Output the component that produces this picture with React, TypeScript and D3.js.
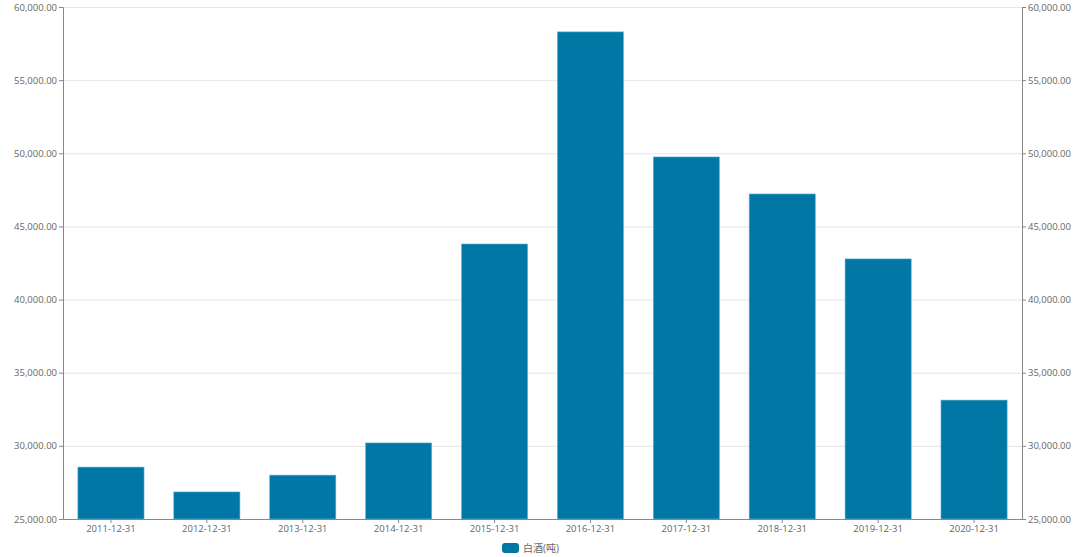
import { useEffect, useRef } from "react";
import * as d3 from "d3";

const categories = [
  "2011-12-31", "2012-12-31", "2013-12-31", "2014-12-31", "2015-12-31",
  "2016-12-31", "2017-12-31", "2018-12-31", "2019-12-31", "2020-12-31",
];
const liquorTons = [28550, 26850, 28000, 30200, 43800, 58300, 49750, 47220, 42780, 33130];
const yTicks = [25000, 30000, 35000, 40000, 45000, 50000, 55000, 60000];
const seriesName = "白酒(吨)";

const BAR = "#0077a5";
const TEXT = "#666";
const FONT = "'Open Sans', 'Noto Sans CJK SC', sans-serif";

export default function App() {
  const ref = useRef<SVGSVGElement>(null);
  const width = 1080;
  const height = 557;
  const margin = { top: 7, right: 58, bottom: 38, left: 63 };

  useEffect(() => {
    const svg = d3.select(ref.current);
    svg.selectAll("*").remove();

    const x = d3.scaleBand()
      .domain(categories)
      .range([margin.left, width - margin.right])
      .paddingInner(0.31)
      .paddingOuter(0.155);
    const y = d3.scaleLinear()
      .domain([25000, 60000])
      .range([height - margin.bottom, margin.top]);
    const fmt = d3.format(",.2f");

    // grid
    svg.append("g")
      .selectAll("line")
      .data(yTicks)
      .join("line")
      .attr("x1", margin.left)
      .attr("x2", width - margin.right)
      .attr("y1", (d) => y(d) + 0.5)
      .attr("y2", (d) => y(d) + 0.5)
      .attr("stroke", "#e6e6e6");

    // bars
    svg.append("g")
      .selectAll("rect")
      .data(liquorTons)
      .join("rect")
      .attr("x", (_, i) => x(categories[i])!)
      .attr("width", x.bandwidth())
      .attr("y", (d) => y(d))
      .attr("height", (d) => y(25000) - y(d))
      .attr("fill", BAR)
      .attr("stroke", "#6fb6d2")
      .attr("stroke-width", 0.6);

    const styleAxis = (g: d3.Selection<SVGGElement, unknown, null, undefined>) => {
      g.selectAll(".domain").attr("stroke", "#888");
      g.selectAll(".tick line").attr("stroke", "#888");
      g.selectAll(".tick text")
        .attr("fill", TEXT)
        .style("font-family", FONT)
        .style("font-size", "9.5px");
    };

    svg.append("g")
      .attr("transform", `translate(${margin.left},0)`)
      .call(d3.axisLeft(y).tickValues(yTicks).tickFormat((d) => fmt(d as number)).tickSize(4).tickPadding(2))
      .call(styleAxis);

    svg.append("g")
      .attr("transform", `translate(${width - margin.right},0)`)
      .call(d3.axisRight(y).tickValues(yTicks).tickFormat((d) => fmt(d as number)).tickSize(4).tickPadding(2))
      .call(styleAxis);

    svg.append("g")
      .attr("transform", `translate(0,${height - margin.bottom})`)
      .call(d3.axisBottom(x).tickSize(4).tickSizeOuter(0).tickPadding(2))
      .call(styleAxis);

    // legend
    const lg = svg.append("g").attr("transform", `translate(${width / 2 - 38},${height - 9})`);
    lg.append("rect")
      .attr("x", 0).attr("y", -5).attr("width", 17).attr("height", 10).attr("rx", 3)
      .attr("fill", BAR);
    lg.append("text")
      .attr("x", 21).attr("y", 0).attr("dy", "0.35em")
      .attr("fill", TEXT)
      .style("font-family", FONT)
      .style("font-size", "10px")
      .text(seriesName);
  }, []);

  return (
    <svg
      ref={ref}
      width={width}
      height={height}
      style={{ position: "absolute", left: 0, top: 0, background: "#fff" }}
    />
  );
}
